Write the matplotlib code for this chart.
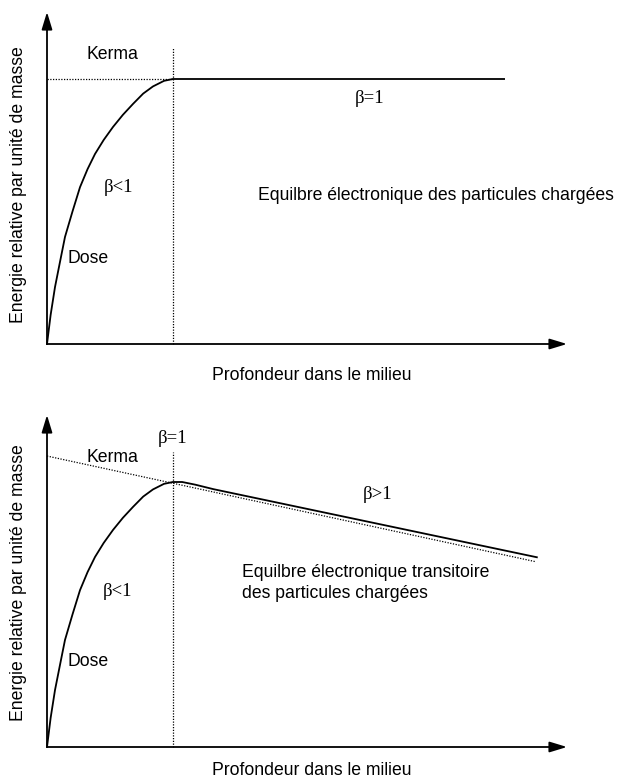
import matplotlib
matplotlib.use("Agg")
import matplotlib.pyplot as plt

# ---- data (depth in arbitrary units, energy relative to kerma at equilibrium) ----
depth_rise = [0.0, 0.07, 0.154, 0.25, 0.346, 0.49, 0.635, 0.78, 0.923, 1.09, 1.269,
              1.46, 1.654, 1.85, 2.038, 2.25, 2.42]
dose_rise = [0.0, 0.11, 0.215, 0.31, 0.404, 0.50, 0.592, 0.66, 0.717, 0.77, 0.819,
             0.865, 0.906, 0.945, 0.972, 0.993, 1.0]

# top panel (CPE)
top_plateau_depth = [8.79]
top_plateau_dose = [1.0]
top_kerma_depth = [0.0, 2.42]
top_kerma = [1.0, 1.0]

# bottom panel (transient CPE)
bot_tail_depth = [2.6, 2.85, 3.2, 9.42]
bot_tail_dose = [1.0, 0.99, 0.973, 0.716]
bot_kerma_depth = [0.0, 9.38]
bot_kerma = [1.098, 0.700]

peak_depth = 2.42

labels_top = {
    "kerma": "Kerma", "beta": "β=1", "beta_lt": "β<1", "dose": "Dose",
    "eq": "Equilbre électronique des particules chargées",
}
labels_bot = {
    "kerma": "Kerma", "beta1": "β=1", "beta_gt": "β>1", "beta_lt": "β<1", "dose": "Dose",
    "eq1": "Equilbre électronique transitoire", "eq2": "des particules chargées",
}
xlabel = "Profondeur dans le milieu"
ylabel = "Energie relative par unité de masse"

W, H = 617, 778
fig = plt.figure(figsize=(W / 100, H / 100), dpi=100)

SANS = "Liberation Sans"
SERIF = "Liberation Serif"
fs_sans = 12.7
fs_beta = 13.5
dot = (0, (1, 1.2))

def make_axes(origin_py, tip_py, ytop):
    left = 47 / W
    width = 520 / W
    bottom = (H - origin_py) / H
    height = (origin_py - tip_py) / H
    ax = fig.add_axes([left, bottom, width, height])
    ax.set_xlim(0, 10)
    ax.set_ylim(0, ytop)
    ax.axis("off")
    arrow = dict(arrowstyle="-|>,head_length=1.05,head_width=0.32", color="black",
                 lw=1.3, shrinkA=0, shrinkB=0)
    ax.annotate("", xy=(10, 0), xytext=(0, 0), arrowprops=arrow, annotation_clip=False)
    ax.annotate("", xy=(0, ytop), xytext=(0, 0), arrowprops=arrow, annotation_clip=False)
    return ax

# ---- top panel ----
ax1 = make_axes(344, 12, 332 / 265)
ax1.plot(depth_rise + top_plateau_depth, dose_rise + top_plateau_dose, color="black", lw=1.3,
         clip_on=False, solid_joinstyle="round")
ax1.plot(top_kerma_depth, top_kerma, color="black", lw=0.9, ls=dot, clip_on=False)
ax1.plot([peak_depth, peak_depth], [0, 1.121], color="black", lw=0.9, ls=dot, clip_on=False)
ax1.text(1.25, 1.094, labels_top["kerma"], fontsize=fs_sans, family=SANS, ha="center", va="center")
ax1.text(6.21, 0.925, labels_top["beta"], fontsize=fs_beta, family=SERIF, ha="center", va="center")
ax1.text(1.37, 0.592, labels_top["beta_lt"], fontsize=fs_beta, family=SERIF, ha="center", va="center")
ax1.text(0.79, 0.321, labels_top["dose"], fontsize=fs_sans, family=SANS, ha="center", va="center")
ax1.text(4.06, 0.562, labels_top["eq"], fontsize=fs_sans, family=SANS, ha="left", va="center")
ax1.text(5.10, -0.12, xlabel, fontsize=fs_sans, family=SANS, ha="center", va="center")
ax1.text(-0.54, 0.60, ylabel, fontsize=fs_sans, family=SANS, ha="center", va="center", rotation=90)

# ---- bottom panel ----
ax2 = make_axes(747, 415, 332 / 265)
ax2.plot(depth_rise + bot_tail_depth, dose_rise + bot_tail_dose, color="black", lw=1.3,
         clip_on=False, solid_joinstyle="round")
ax2.plot(bot_kerma_depth, bot_kerma, color="black", lw=0.9, ls=dot, clip_on=False)
ax2.plot([peak_depth, peak_depth], [0, 1.113], color="black", lw=0.9, ls=dot, clip_on=False)
ax2.text(2.42, 1.166, labels_bot["beta1"], fontsize=fs_beta, family=SERIF, ha="center", va="center")
ax2.text(1.25, 1.094, labels_bot["kerma"], fontsize=fs_sans, family=SANS, ha="center", va="center")
ax2.text(6.35, 0.951, labels_bot["beta_gt"], fontsize=fs_beta, family=SERIF, ha="center", va="center")
ax2.text(1.35, 0.585, labels_bot["beta_lt"], fontsize=fs_beta, family=SERIF, ha="center", va="center")
ax2.text(0.79, 0.321, labels_bot["dose"], fontsize=fs_sans, family=SANS, ha="center", va="center")
ax2.text(3.75, 0.660, labels_bot["eq1"], fontsize=fs_sans, family=SANS, ha="left", va="center")
ax2.text(3.75, 0.581, labels_bot["eq2"], fontsize=fs_sans, family=SANS, ha="left", va="center")
ax2.text(5.10, -0.087, xlabel, fontsize=fs_sans, family=SANS, ha="center", va="center")
ax2.text(-0.54, 0.62, ylabel, fontsize=fs_sans, family=SANS, ha="center", va="center", rotation=90)

fig.savefig("out.png", dpi=100, facecolor="white")
